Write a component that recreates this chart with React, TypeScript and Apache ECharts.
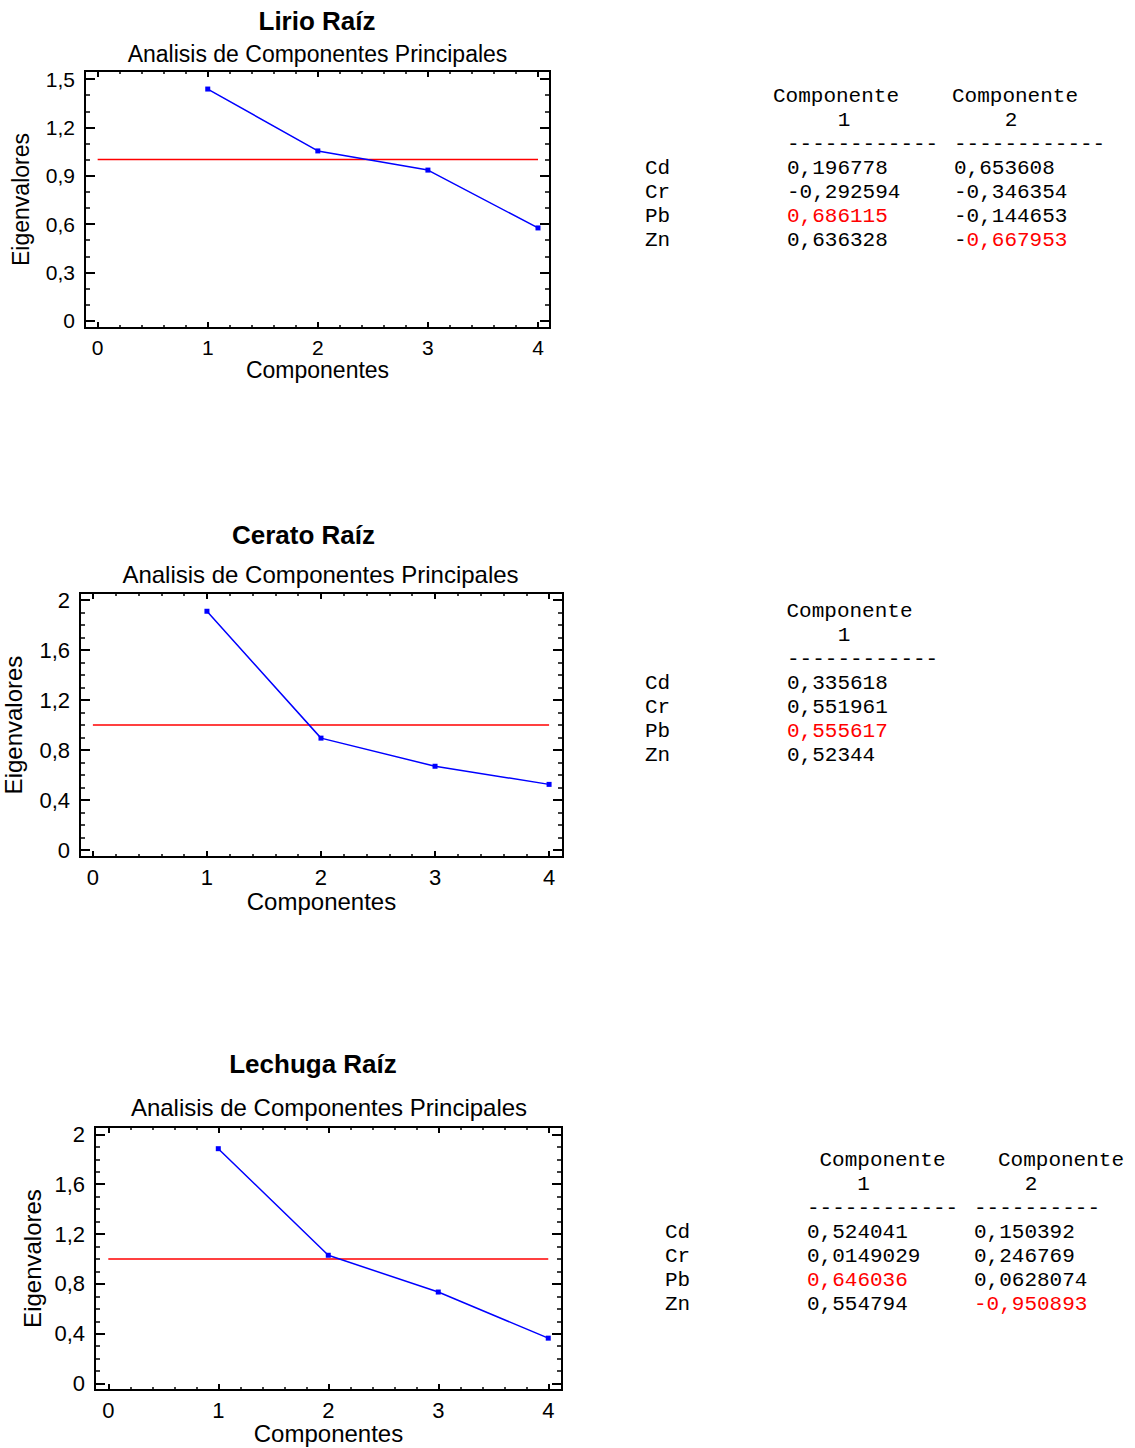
import React, { useEffect, useRef } from "react";
import * as echarts from "echarts";

// ---------- data ----------
const components = [1, 2, 3, 4];
const threshold = 1;
const xTickLabels = [0, 1, 2, 3, 4];

const lirioEigen = [1.438, 1.054, 0.935, 0.576];
const ceratoEigen = [1.91, 0.895, 0.67, 0.525];
const lechugaEigen = [1.885, 1.03, 0.735, 0.365];

const lirioYTicks = [0, 0.3, 0.6, 0.9, 1.2, 1.5];
const ceratoYTicks = [0, 0.4, 0.8, 1.2, 1.6, 2];
const lechugaYTicks = [0, 0.4, 0.8, 1.2, 1.6, 2];

const variables = ["Cd", "Cr", "Pb", "Zn"];
const lirioComp1 = [0.196778, -0.292594, 0.686115, 0.636328];
const lirioComp2 = [0.653608, -0.346354, -0.144653, -0.667953];
const ceratoComp1 = [0.335618, 0.551961, 0.555617, 0.52344];
const lechugaComp1 = [0.524041, 0.0149029, 0.646036, 0.554794];
const lechugaComp2 = [0.150392, 0.246769, 0.0628074, -0.950893];

// highlighted cells: [row, col, minusAlsoRed]
const lirioRed = [[2, 0, true], [3, 1, false]];
const ceratoRed = [[2, 0, true]];
const lechugaRed = [[2, 0, true], [3, 1, true]];

const SANS = '"Liberation Sans", Arial, Helvetica, sans-serif';
const MONO = '"Liberation Mono", "Courier New", monospace';
const BLUE = "#0000ff";
const RED = "#ff0000";

const panels = [
  {
    title: "Lirio Raíz", subtitle: "Analisis de Componentes Principales",
    eigen: lirioEigen, yTicks: lirioYTicks,
    left: 85, top: 71, width: 465, height: 257,
    xMin: -0.115, xMax: 4.109, yMin: -0.045, yMax: 1.55,
    titleX: 317, titleY: 21, subX: 317.5, subY: 54,
    font: 23, tickFont: 21, yNameGap: 53, xNameGap: 30,
  },
  {
    title: "Cerato Raíz", subtitle: "Analisis de Componentes Principales",
    eigen: ceratoEigen, yTicks: ceratoYTicks,
    left: 77, top: 593, width: 486, height: 264,
    xMin: -0.113, xMax: 4.122, yMin: -0.056, yMax: 2.056,
    titleX: 303.5, titleY: 535, subX: 320.5, subY: 574.5,
    font: 24, tickFont: 22, yNameGap: 55, xNameGap: 32,
  },
  {
    title: "Lechuga Raíz", subtitle: "Analisis de Componentes Principales",
    eigen: lechugaEigen, yTicks: lechugaYTicks,
    left: 95, top: 1127, width: 467, height: 263,
    xMin: -0.121, xMax: 4.125, yMin: -0.051, yMax: 2.059,
    titleX: 313, titleY: 1063.5, subX: 329, subY: 1107.5,
    font: 24, tickFont: 22, yNameGap: 51, xNameGap: 31,
  },
];

const tables = [
  {
    cols: [lirioComp1, lirioComp2], red: lirioRed, nums: ["1", "2"],
    labelX: 645, colX: [787, 954], headX: [773, 952], numX: [844, 1011],
    dashCount: [12, 12], yHead: 96, yNum: 120.5, yDash: 144, rowY0: 168.7, rowStep: 23.8,
  },
  {
    cols: [ceratoComp1], red: ceratoRed, nums: ["1"],
    labelX: 645, colX: [787], headX: [786.5], numX: [844],
    dashCount: [12], yHead: 611.7, yNum: 635.8, yDash: 659.8, rowY0: 683.8, rowStep: 23.9,
  },
  {
    cols: [lechugaComp1, lechugaComp2], red: lechugaRed, nums: ["1", "2"],
    labelX: 665, colX: [807, 974], headX: [819.5, 998], numX: [863.5, 1031],
    dashCount: [12, 10], yHead: 1160, yNum: 1184, yDash: 1208, rowY0: 1232.2, rowStep: 24.2,
  },
];

// ---------- helpers ----------
const fmtTick = (v: number) => String(+(+v).toFixed(4)).replace(".", ",");
const fmtCell = (v: number) => String(v).replace(".", ",");

function minorBetween(ticks: number[], step: number) {
  const out: number[] = [];
  for (let i = 0; i < ticks.length - 1; i++) {
    const a = ticks[i];
    const b = ticks[i + 1];
    const n = Math.round((b - a) / step);
    for (let k = 1; k < n; k++) out.push(+(a + k * step).toFixed(4));
  }
  return out;
}

function text(t: string, x: number, y: number, o: any = {}) {
  const align = o.align || "left";
  return {
    type: "text",
    x,
    y,
    silent: true,
    style: {
      text: t,
      fill: o.fill || "#000",
      fontSize: o.fontSize || 21,
      fontFamily: o.fontFamily || SANS,
      fontWeight: o.fontWeight || "normal",
      align,
      verticalAlign: "middle",
      textAlign: align,
      textVerticalAlign: "middle",
    },
  };
}

function buildOption() {
  const grid: any[] = [];
  const xAxis: any[] = [];
  const yAxis: any[] = [];
  const series: any[] = [];
  const graphic: any[] = [];

  panels.forEach((p, i) => {
    grid.push({
      left: p.left, top: p.top, width: p.width, height: p.height,
      show: true, borderColor: "#000", borderWidth: 2, backgroundColor: "transparent",
      containLabel: false,
    });
    const xMinor = minorBetween(xTickLabels, 0.2);
    const yMinor = minorBetween(p.yTicks, 0.1);
    const baseX = {
      type: "value", gridIndex: i, min: p.xMin, max: p.xMax,
      axisLine: { show: false, onZero: false }, splitLine: { show: false },
    };
    const baseY = {
      type: "value", gridIndex: i, min: p.yMin, max: p.yMax,
      axisLine: { show: false, onZero: false }, splitLine: { show: false },
    };
    const tick = (vals: number[], len: number, w: number) => ({
      show: true, inside: true, length: len, customValues: vals,
      lineStyle: { color: "#000", width: w },
    });
    const noLabel = { show: false };
    // x axes
    xAxis.push({
      ...baseX, position: "bottom",
      axisTick: tick(xTickLabels, 6, 2),
      axisLabel: {
        show: true, customValues: xTickLabels, margin: 9, color: "#000",
        fontSize: p.tickFont, fontFamily: SANS, formatter: (v: number) => fmtTick(v),
      },
      name: "Componentes", nameLocation: "middle", nameGap: p.xNameGap,
      nameTextStyle: { color: "#000", fontSize: p.font, fontFamily: SANS },
    });
    xAxis.push({ ...baseX, position: "bottom", axisTick: tick(xMinor, 3, 1.5), axisLabel: noLabel });
    xAxis.push({ ...baseX, position: "top", axisTick: tick(xTickLabels, 6, 2), axisLabel: noLabel });
    xAxis.push({ ...baseX, position: "top", axisTick: tick(xMinor, 3, 1.5), axisLabel: noLabel });
    // y axes
    yAxis.push({
      ...baseY, position: "left",
      axisTick: tick(p.yTicks, 10, 2),
      axisLabel: {
        show: true, customValues: p.yTicks, margin: 10, color: "#000",
        fontSize: p.tickFont, fontFamily: SANS, formatter: (v: number) => fmtTick(v),
      },
      name: "Eigenvalores", nameLocation: "middle", nameGap: p.yNameGap,
      nameTextStyle: { color: "#000", fontSize: p.font, fontFamily: SANS },
    });
    yAxis.push({ ...baseY, position: "left", axisTick: tick(yMinor, 5, 1.5), axisLabel: noLabel });
    yAxis.push({ ...baseY, position: "right", axisTick: tick(p.yTicks, 10, 2), axisLabel: noLabel });
    yAxis.push({ ...baseY, position: "right", axisTick: tick(yMinor, 5, 1.5), axisLabel: noLabel });

    const xi = i * 4;
    const yi = i * 4;
    series.push({
      type: "line", xAxisIndex: xi, yAxisIndex: yi, silent: true,
      data: [[xTickLabels[0], threshold], [xTickLabels[xTickLabels.length - 1], threshold]],
      symbol: "none", lineStyle: { color: RED, width: 1.5 }, itemStyle: { color: RED }, z: 2,
    });
    series.push({
      type: "line", xAxisIndex: xi, yAxisIndex: yi, silent: true,
      data: components.map((c, k) => [c, p.eigen[k]]),
      symbol: "rect", symbolSize: 5,
      lineStyle: { color: BLUE, width: 1.5 }, itemStyle: { color: BLUE }, z: 3,
    });

    graphic.push(text(p.title, p.titleX, p.titleY, { align: "center", fontSize: 26, fontWeight: "bold" }));
    graphic.push(text(p.subtitle, p.subX, p.subY, { align: "center", fontSize: p.font }));
  });

  // tables
  const cw = 21 * 0.6;
  tables.forEach((t) => {
    t.cols.forEach((col, c) => {
      graphic.push(text("Componente", t.headX[c], t.yHead, { fontFamily: MONO, fontSize: 21 }));
      graphic.push(text(t.nums[c], t.numX[c], t.yNum, { fontFamily: MONO, fontSize: 21, align: "center" }));
      graphic.push(text("-".repeat(t.dashCount[c]), t.colX[c], t.yDash, { fontFamily: MONO, fontSize: 21 }));
      col.forEach((v, r) => {
        const s = fmtCell(v);
        const y = t.rowY0 + r * t.rowStep;
        const hl = t.red.find((h) => h[0] === r && h[1] === c);
        if (!hl) {
          graphic.push(text(s, t.colX[c], y, { fontFamily: MONO, fontSize: 21 }));
        } else if (hl[2] || s[0] !== "-") {
          graphic.push(text(s, t.colX[c], y, { fontFamily: MONO, fontSize: 21, fill: RED }));
        } else {
          graphic.push(text("-", t.colX[c], y, { fontFamily: MONO, fontSize: 21 }));
          graphic.push(text(s.slice(1), t.colX[c] + cw, y, { fontFamily: MONO, fontSize: 21, fill: RED }));
        }
      });
    });
    variables.forEach((name, r) => {
      graphic.push(text(name, t.labelX, t.rowY0 + r * t.rowStep, { fontFamily: MONO, fontSize: 21 }));
    });
  });

  return {
    animation: false,
    backgroundColor: "#ffffff",
    grid, xAxis, yAxis, series, graphic,
  };
}

export default function App() {
  const ref = useRef<HTMLDivElement>(null);
  useEffect(() => {
    document.body.style.margin = "0";
    if (!ref.current) return;
    const chart = echarts.init(ref.current, null, { renderer: "svg" });
    chart.setOption(buildOption() as any);
    return () => chart.dispose();
  }, []);
  return (
    <div
      ref={ref}
      style={{ position: "absolute", left: 0, top: 0, width: 1135, height: 1448, background: "#fff" }}
    />
  );
}
